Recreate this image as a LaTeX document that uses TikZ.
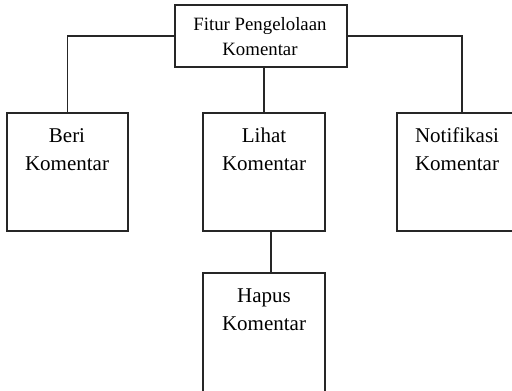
\documentclass[tikz,border=0pt]{standalone}
\usepackage{fontspec}
\setmainfont{Liberation Serif}
\begin{document}
\begin{tikzpicture}[x=1pt,y=-1pt,
  box/.style={draw=black!85, line width=1.3pt, rectangle, inner sep=0pt},
  conn/.style={draw=black!85, line width=1.3pt},
  toptxt/.style={anchor=base, inner sep=0pt, font=\fontsize{18.8}{22}\selectfont},
  txt/.style={anchor=base, inner sep=0pt, font=\fontsize{21}{25}\selectfont}]
\useasboundingbox (0,0) rectangle (512,391);
\clip (0,0) rectangle (512,391);
% boxes
\node[box, minimum width=172pt, minimum height=62pt] (top) at (261,36) {};
\node[box, minimum width=121pt, minimum height=118pt] (beri) at (67.5,172) {};
\node[box, minimum width=122pt, minimum height=118pt] (lihat) at (264,172) {};
\node[box, minimum width=122pt, minimum height=118pt] (notif) at (458,172) {};
\node[box, minimum width=122pt, minimum height=124pt] (hapus) at (264,335) {};
% texts
\node[toptxt] (t1) at (260,30) {Fitur Pengelolaan};
\node[toptxt] (t2) at (260,55) {Komentar};
\node[txt] (b1) at (67,142) {Beri};
\node[txt] (b2) at (67,170) {Komentar};
\node[txt] (l1) at (264,142) {Lihat};
\node[txt] (l2) at (264,170) {Komentar};
\node[txt] (n1) at (457,142) {Notifikasi};
\node[txt] (n2) at (457,170) {Komentar};
\node[txt] (h1) at (264,302) {Hapus};
\node[txt] (h2) at (264,330) {Komentar};
% connectors
\draw[conn] (top.west) -| (beri.north);
\draw[conn] (top.east) -| ([xshift=4pt]notif.north);
\draw[conn] (lihat.north) -- (lihat.north |- top.south);
\draw[conn] ([xshift=7pt]lihat.south) -- ([xshift=7pt]hapus.north);
\end{tikzpicture}
\end{document}
